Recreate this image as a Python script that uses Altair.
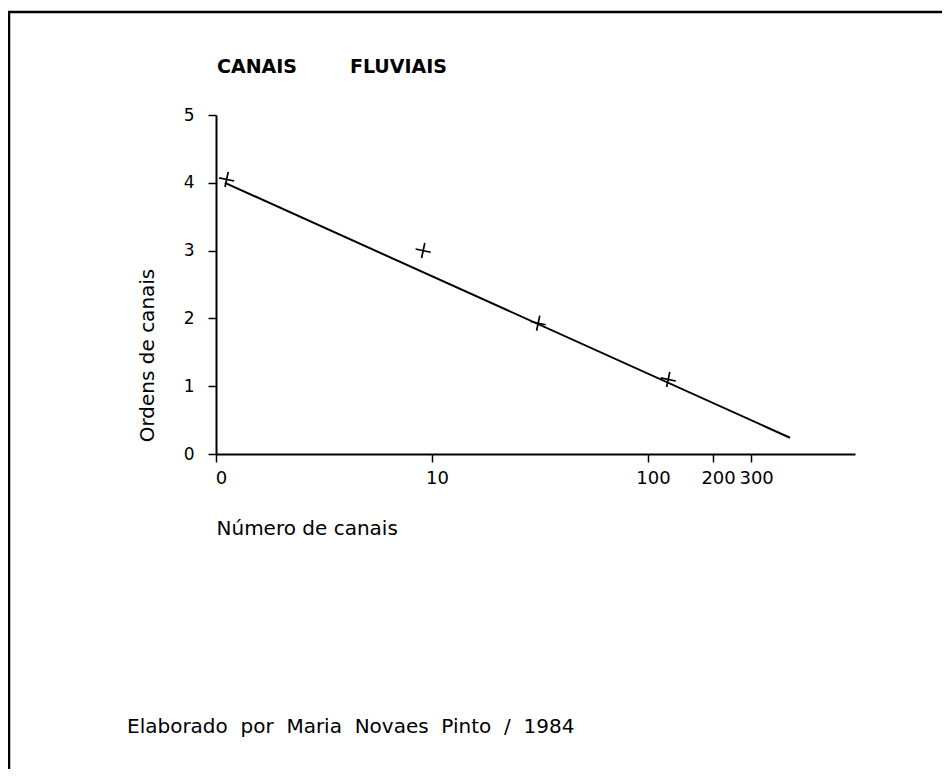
import altair as alt
import pandas as pd

# ---- data ----
ordens = [4.05, 3.0, 1.93, 1.1]            # stream order (y) of each plotted cross
num_canais = [1.12, 9.1, 31, 124]          # number of channels (x, log scale)
linha_x = [1.1, 454]                       # fitted line end points (x)
linha_y = [4.0, 0.24]                      # fitted line end points (y)
x_ticks = [1, 10, 100, 200, 300]
y_ticks = [0, 1, 2, 3, 4, 5]

titulo = "CANAIS" + "\u00a0" * 8 + "FLUVIAIS"
x_titulo = "Número de canais"
y_titulo = "Ordens de canais"
rodape = ("Elaborado\u00a0\u00a0por\u00a0\u00a0Maria\u00a0\u00a0Novaes\u00a0\u00a0"
          "Pinto\u00a0\u00a0/\u00a0\u00a01984")

FONT = "DejaVu Sans"
W, H = 639, 339

pts = pd.DataFrame({"n": num_canais, "o": ordens})
lin = pd.DataFrame({"n": linha_x, "o": linha_y})

x_scale = alt.Scale(type="log", domain=[1, 908], nice=False)
y_scale = alt.Scale(domain=[0, 5], nice=False)

x_axis = alt.Axis(
    values=x_ticks, format="d",
    labelExpr="datum.value == 1 ? '0' : datum.label",
    grid=False, domainWidth=2, domainColor="black",
    tickSize=8, tickWidth=1.5, tickColor="black",
    labelFontSize=18, labelPadding=7, labelColor="black", labelFont=FONT,
    labelFlush=False, labelOffset=5,
    title=x_titulo, titleAnchor="start", titleAlign="left", titleX=0, titleY=74,
    titleBaseline="middle", titleFontWeight="normal", titleFontSize=20,
    titleFont=FONT, titleColor="black",
)
y_axis = alt.Axis(
    values=y_ticks, format="d",
    grid=False, domainWidth=2, domainColor="black",
    tickSize=8, tickWidth=1.5, tickColor="black",
    labelFontSize=17, labelPadding=14, labelColor="black", labelFont=FONT,
    labelFlush=False,
    title=y_titulo, titleAngle=-90, titleAlign="center", titleBaseline="middle",
    titleX=-69, titleY=240, titleFontWeight="normal", titleFontSize=20,
    titleFont=FONT, titleColor="black",
)

line = alt.Chart(lin).mark_line(color="black", strokeWidth=2).encode(
    x=alt.X("n:Q", scale=x_scale, axis=x_axis),
    y=alt.Y("o:Q", scale=y_scale, axis=y_axis),
)

crosses = alt.Chart(pts).mark_point(
    shape="M-1,0L1,0M0,-1L0,1", filled=False, color="black",
    strokeWidth=1.7, size=240, angle=12, opacity=1,
).encode(
    x=alt.X("n:Q", scale=x_scale),
    y=alt.Y("o:Q", scale=y_scale),
)

one = pd.DataFrame({"a": [0]})

title_mark = alt.Chart(one).mark_text(
    text=titulo, font=FONT, fontSize=19, fontWeight="bold", align="left",
    baseline="middle", color="black",
).encode(x=alt.value(1), y=alt.value(-48))

foot_mark = alt.Chart(one).mark_text(
    text=rodape, font=FONT, fontSize=20, align="left",
    baseline="middle", color="black",
).encode(x=alt.value(-89), y=alt.value(612))

frame_top = alt.Chart(one).mark_rule(color="black", strokeWidth=2.5).encode(
    x=alt.value(-208), x2=alt.value(726), y=alt.value(-103)
)
frame_left = alt.Chart(one).mark_rule(color="black", strokeWidth=2.5).encode(
    x=alt.value(-207), y=alt.value(-103), y2=alt.value(660)
)

chart = alt.layer(
    frame_top, frame_left, line, crosses, title_mark, foot_mark
).properties(
    width=W, height=H,
    autosize=alt.AutoSizeParams(type="none"),
    padding={"left": 208, "top": 107, "right": 87, "bottom": 315},
    background="white",
).configure_view(stroke=None)

chart.save("out.html", embed_options={"renderer": "svg", "actions": False})
